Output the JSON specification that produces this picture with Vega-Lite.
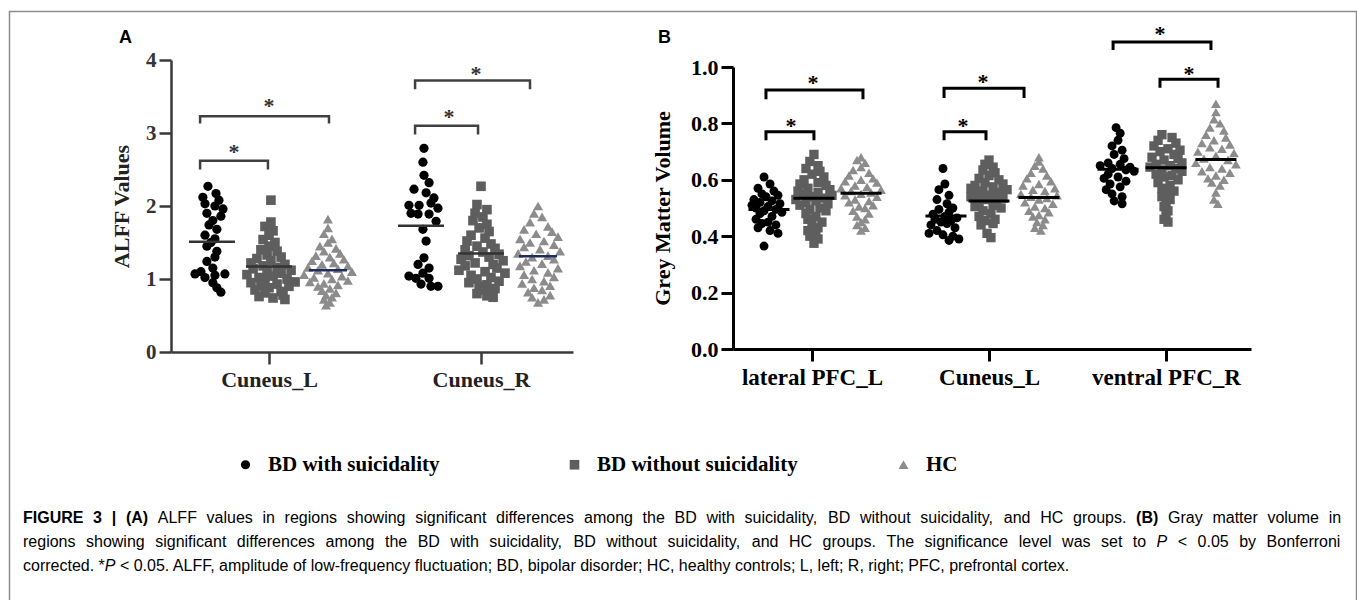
{
"$schema": "https://vega.github.io/schema/vega-lite/v6.json",
"padding": {"left": 8, "top": 10, "right": 0, "bottom": 0},
"background": "white",
"config": {"view": {"stroke": null}, "font": "Liberation Serif", "style": {"cap": {"align": "left", "baseline": "middle", "font": "Liberation Sans", "fontSize": 16, "fill": "#333"}}},
"datasets": {
"ptsA": [
{"g":"S","v":2.27,"x":0.712},{"g":"S","v":2.17,"x":0.75},{"g":"S","v":2.12,"x":0.688},{"g":"S","v":2.08,"x":0.764},{"g":"S","v":2.03,"x":0.698},{"g":"S","v":2.0,"x":0.745},{"g":"S","v":1.96,"x":0.783},{"g":"S","v":1.9,"x":0.707},{"g":"S","v":1.86,"x":0.773},{"g":"S","v":1.8,"x":0.735},{"g":"S","v":1.74,"x":0.717},{"g":"S","v":1.68,"x":0.754},{"g":"S","v":1.6,"x":0.698},{"g":"S","v":1.55,"x":0.745},{"g":"S","v":1.5,"x":0.726},{"g":"S","v":1.45,"x":0.707},{"g":"S","v":1.38,"x":0.754},{"g":"S","v":1.3,"x":0.745},{"g":"S","v":1.24,"x":0.707},{"g":"S","v":1.15,"x":0.735},{"g":"S","v":1.1,"x":0.679},{"g":"S","v":1.07,"x":0.651},{"g":"S","v":1.07,"x":0.792},{"g":"S","v":1.05,"x":0.745},{"g":"S","v":1.02,"x":0.698},{"g":"S","v":0.95,"x":0.735},{"g":"S","v":0.88,"x":0.754},{"g":"S","v":0.82,"x":0.773},
{"g":"N","v":2.08,"x":1.009},{"g":"N","v":1.78,"x":1.009},{"g":"N","v":1.72,"x":0.981},{"g":"N","v":1.66,"x":1.019},{"g":"N","v":1.6,"x":1.0},{"g":"N","v":1.54,"x":0.972},{"g":"N","v":1.5,"x":1.028},{"g":"N","v":1.45,"x":1.0},{"g":"N","v":1.4,"x":0.962},{"g":"N","v":1.38,"x":1.038},{"g":"N","v":1.33,"x":0.991},{"g":"N","v":1.3,"x":1.057},{"g":"N","v":1.28,"x":0.943},{"g":"N","v":1.25,"x":1.009},{"g":"N","v":1.22,"x":0.915},{"g":"N","v":1.2,"x":1.075},{"g":"N","v":1.18,"x":0.972},{"g":"N","v":1.16,"x":1.038},{"g":"N","v":1.14,"x":0.925},{"g":"N","v":1.12,"x":1.104},{"g":"N","v":1.1,"x":0.991},{"g":"N","v":1.08,"x":1.057},{"g":"N","v":1.06,"x":0.896},{"g":"N","v":1.04,"x":1.019},{"g":"N","v":1.02,"x":0.953},{"g":"N","v":1.0,"x":1.085},{"g":"N","v":0.98,"x":0.981},{"g":"N","v":0.96,"x":1.123},{"g":"N","v":0.95,"x":0.915},{"g":"N","v":0.93,"x":1.038},{"g":"N","v":0.91,"x":0.962},{"g":"N","v":0.9,"x":1.094},{"g":"N","v":0.88,"x":1.0},{"g":"N","v":0.85,"x":0.934},{"g":"N","v":0.83,"x":1.057},{"g":"N","v":0.81,"x":0.981},{"g":"N","v":0.78,"x":1.066},{"g":"N","v":0.76,"x":0.953},{"g":"N","v":0.74,"x":1.019},{"g":"N","v":0.72,"x":1.075},
{"g":"H","v":1.82,"x":1.278},{"g":"H","v":1.7,"x":1.278},{"g":"H","v":1.62,"x":1.259},{"g":"H","v":1.55,"x":1.297},{"g":"H","v":1.5,"x":1.278},{"g":"H","v":1.45,"x":1.24},{"g":"H","v":1.42,"x":1.316},{"g":"H","v":1.38,"x":1.259},{"g":"H","v":1.35,"x":1.335},{"g":"H","v":1.32,"x":1.221},{"g":"H","v":1.3,"x":1.287},{"g":"H","v":1.27,"x":1.353},{"g":"H","v":1.25,"x":1.203},{"g":"H","v":1.22,"x":1.306},{"g":"H","v":1.2,"x":1.25},{"g":"H","v":1.18,"x":1.372},{"g":"H","v":1.16,"x":1.184},{"g":"H","v":1.14,"x":1.325},{"g":"H","v":1.12,"x":1.231},{"g":"H","v":1.1,"x":1.391},{"g":"H","v":1.08,"x":1.278},{"g":"H","v":1.06,"x":1.165},{"g":"H","v":1.04,"x":1.344},{"g":"H","v":1.02,"x":1.212},{"g":"H","v":1.0,"x":1.297},{"g":"H","v":0.98,"x":1.372},{"g":"H","v":0.96,"x":1.193},{"g":"H","v":0.94,"x":1.259},{"g":"H","v":0.92,"x":1.325},{"g":"H","v":0.9,"x":1.231},{"g":"H","v":0.87,"x":1.287},{"g":"H","v":0.84,"x":1.25},{"g":"H","v":0.81,"x":1.316},{"g":"H","v":0.78,"x":1.269},{"g":"H","v":0.75,"x":1.297},{"g":"H","v":0.72,"x":1.259},{"g":"H","v":0.68,"x":1.287},{"g":"H","v":0.64,"x":1.269},
{"g":"S","v":2.79,"x":1.731},{"g":"S","v":2.6,"x":1.726},{"g":"S","v":2.42,"x":1.731},{"g":"S","v":2.32,"x":1.755},{"g":"S","v":2.23,"x":1.684},{"g":"S","v":2.18,"x":1.741},{"g":"S","v":2.11,"x":1.778},{"g":"S","v":2.01,"x":1.66},{"g":"S","v":2.01,"x":1.708},{"g":"S","v":2.04,"x":1.764},{"g":"S","v":1.97,"x":1.797},{"g":"S","v":1.9,"x":1.67},{"g":"S","v":1.89,"x":1.703},{"g":"S","v":1.89,"x":1.755},{"g":"S","v":1.79,"x":1.788},{"g":"S","v":1.68,"x":1.726},{"g":"S","v":1.52,"x":1.741},{"g":"S","v":1.29,"x":1.731},{"g":"S","v":1.2,"x":1.703},{"g":"S","v":1.15,"x":1.755},{"g":"S","v":1.08,"x":1.726},{"g":"S","v":1.04,"x":1.66},{"g":"S","v":1.01,"x":1.693},{"g":"S","v":1.01,"x":1.755},{"g":"S","v":0.93,"x":1.717},{"g":"S","v":0.9,"x":1.764},{"g":"S","v":0.9,"x":1.797},
{"g":"N","v":2.27,"x":2.0},{"g":"N","v":2.02,"x":1.981},{"g":"N","v":1.95,"x":2.028},{"g":"N","v":1.9,"x":1.972},{"g":"N","v":1.85,"x":2.009},{"g":"N","v":1.8,"x":1.962},{"g":"N","v":1.75,"x":2.028},{"g":"N","v":1.7,"x":1.991},{"g":"N","v":1.65,"x":2.038},{"g":"N","v":1.6,"x":1.953},{"g":"N","v":1.56,"x":2.019},{"g":"N","v":1.52,"x":1.934},{"g":"N","v":1.48,"x":2.047},{"g":"N","v":1.45,"x":1.981},{"g":"N","v":1.42,"x":2.066},{"g":"N","v":1.4,"x":1.925},{"g":"N","v":1.37,"x":2.009},{"g":"N","v":1.34,"x":2.085},{"g":"N","v":1.32,"x":1.943},{"g":"N","v":1.3,"x":2.038},{"g":"N","v":1.27,"x":1.906},{"g":"N","v":1.25,"x":2.104},{"g":"N","v":1.22,"x":1.972},{"g":"N","v":1.2,"x":2.057},{"g":"N","v":1.18,"x":1.925},{"g":"N","v":1.15,"x":2.075},{"g":"N","v":1.12,"x":1.896},{"g":"N","v":1.1,"x":2.019},{"g":"N","v":1.08,"x":2.113},{"g":"N","v":1.05,"x":1.953},{"g":"N","v":1.02,"x":2.047},{"g":"N","v":1.0,"x":1.981},{"g":"N","v":0.97,"x":2.085},{"g":"N","v":0.95,"x":1.943},{"g":"N","v":0.92,"x":2.028},{"g":"N","v":0.9,"x":1.991},{"g":"N","v":0.87,"x":2.066},{"g":"N","v":0.85,"x":2.009},{"g":"N","v":0.82,"x":2.038},{"g":"N","v":0.8,"x":1.981},{"g":"N","v":0.77,"x":2.028},{"g":"N","v":0.75,"x":2.057},
{"g":"H","v":2.0,"x":2.269},{"g":"H","v":1.9,"x":2.25},{"g":"H","v":1.85,"x":2.288},{"g":"H","v":1.78,"x":2.231},{"g":"H","v":1.72,"x":2.316},{"g":"H","v":1.68,"x":2.203},{"g":"H","v":1.65,"x":2.335},{"g":"H","v":1.62,"x":2.26},{"g":"H","v":1.58,"x":2.363},{"g":"H","v":1.55,"x":2.184},{"g":"H","v":1.52,"x":2.297},{"g":"H","v":1.5,"x":2.231},{"g":"H","v":1.47,"x":2.344},{"g":"H","v":1.44,"x":2.203},{"g":"H","v":1.41,"x":2.278},{"g":"H","v":1.38,"x":2.373},{"g":"H","v":1.35,"x":2.175},{"g":"H","v":1.32,"x":2.316},{"g":"H","v":1.3,"x":2.241},{"g":"H","v":1.27,"x":2.344},{"g":"H","v":1.24,"x":2.212},{"g":"H","v":1.21,"x":2.288},{"g":"H","v":1.18,"x":2.184},{"g":"H","v":1.15,"x":2.363},{"g":"H","v":1.12,"x":2.25},{"g":"H","v":1.09,"x":2.316},{"g":"H","v":1.06,"x":2.203},{"g":"H","v":1.03,"x":2.344},{"g":"H","v":1.0,"x":2.241},{"g":"H","v":0.97,"x":2.297},{"g":"H","v":0.94,"x":2.194},{"g":"H","v":0.91,"x":2.326},{"g":"H","v":0.88,"x":2.25},{"g":"H","v":0.85,"x":2.288},{"g":"H","v":0.82,"x":2.222},{"g":"H","v":0.78,"x":2.326},{"g":"H","v":0.75,"x":2.241},{"g":"H","v":0.72,"x":2.297},{"g":"H","v":0.68,"x":2.269}
],
"ptsB": [
{"g":"S","v":0.61,"x":0.729},{"g":"S","v":0.585,"x":0.763},{"g":"S","v":0.57,"x":0.695},{"g":"S","v":0.56,"x":0.785},{"g":"S","v":0.55,"x":0.717},{"g":"S","v":0.545,"x":0.808},{"g":"S","v":0.54,"x":0.74},{"g":"S","v":0.53,"x":0.672},{"g":"S","v":0.525,"x":0.774},{"g":"S","v":0.52,"x":0.706},{"g":"S","v":0.515,"x":0.819},{"g":"S","v":0.51,"x":0.661},{"g":"S","v":0.505,"x":0.751},{"g":"S","v":0.5,"x":0.684},{"g":"S","v":0.495,"x":0.796},{"g":"S","v":0.49,"x":0.729},{"g":"S","v":0.485,"x":0.83},{"g":"S","v":0.48,"x":0.706},{"g":"S","v":0.47,"x":0.774},{"g":"S","v":0.46,"x":0.684},{"g":"S","v":0.45,"x":0.751},{"g":"S","v":0.445,"x":0.717},{"g":"S","v":0.44,"x":0.796},{"g":"S","v":0.43,"x":0.695},{"g":"S","v":0.42,"x":0.763},{"g":"S","v":0.41,"x":0.808},{"g":"S","v":0.365,"x":0.729},
{"g":"N","v":0.69,"x":1.011},{"g":"N","v":0.665,"x":0.988},{"g":"N","v":0.65,"x":1.034},{"g":"N","v":0.64,"x":0.966},{"g":"N","v":0.63,"x":1.045},{"g":"N","v":0.62,"x":1.0},{"g":"N","v":0.61,"x":1.067},{"g":"N","v":0.6,"x":0.955},{"g":"N","v":0.59,"x":1.034},{"g":"N","v":0.585,"x":0.932},{"g":"N","v":0.58,"x":1.079},{"g":"N","v":0.57,"x":0.977},{"g":"N","v":0.565,"x":1.101},{"g":"N","v":0.56,"x":0.921},{"g":"N","v":0.555,"x":1.034},{"g":"N","v":0.55,"x":0.955},{"g":"N","v":0.545,"x":1.113},{"g":"N","v":0.54,"x":1.0},{"g":"N","v":0.535,"x":1.067},{"g":"N","v":0.53,"x":0.909},{"g":"N","v":0.525,"x":1.022},{"g":"N","v":0.52,"x":0.966},{"g":"N","v":0.515,"x":1.09},{"g":"N","v":0.51,"x":0.932},{"g":"N","v":0.5,"x":1.045},{"g":"N","v":0.495,"x":0.988},{"g":"N","v":0.49,"x":1.079},{"g":"N","v":0.48,"x":0.966},{"g":"N","v":0.47,"x":1.022},{"g":"N","v":0.46,"x":0.977},{"g":"N","v":0.45,"x":1.056},{"g":"N","v":0.44,"x":1.0},{"g":"N","v":0.43,"x":1.034},{"g":"N","v":0.42,"x":0.977},{"g":"N","v":0.41,"x":1.022},{"g":"N","v":0.4,"x":0.988},{"g":"N","v":0.39,"x":1.034},{"g":"N","v":0.375,"x":1.011},
{"g":"H","v":0.68,"x":1.277},{"g":"H","v":0.67,"x":1.254},{"g":"H","v":0.66,"x":1.3},{"g":"H","v":0.645,"x":1.277},{"g":"H","v":0.635,"x":1.232},{"g":"H","v":0.625,"x":1.322},{"g":"H","v":0.615,"x":1.209},{"g":"H","v":0.605,"x":1.345},{"g":"H","v":0.6,"x":1.277},{"g":"H","v":0.595,"x":1.187},{"g":"H","v":0.59,"x":1.367},{"g":"H","v":0.58,"x":1.243},{"g":"H","v":0.575,"x":1.311},{"g":"H","v":0.57,"x":1.164},{"g":"H","v":0.565,"x":1.39},{"g":"H","v":0.56,"x":1.221},{"g":"H","v":0.555,"x":1.333},{"g":"H","v":0.55,"x":1.277},{"g":"H","v":0.545,"x":1.187},{"g":"H","v":0.54,"x":1.367},{"g":"H","v":0.53,"x":1.243},{"g":"H","v":0.525,"x":1.322},{"g":"H","v":0.52,"x":1.209},{"g":"H","v":0.51,"x":1.345},{"g":"H","v":0.505,"x":1.266},{"g":"H","v":0.5,"x":1.3},{"g":"H","v":0.49,"x":1.232},{"g":"H","v":0.48,"x":1.322},{"g":"H","v":0.47,"x":1.254},{"g":"H","v":0.46,"x":1.3},{"g":"H","v":0.45,"x":1.277},{"g":"H","v":0.44,"x":1.254},{"g":"H","v":0.43,"x":1.3},{"g":"H","v":0.42,"x":1.277},
{"g":"S","v":0.64,"x":1.74},{"g":"S","v":0.585,"x":1.751},{"g":"S","v":0.565,"x":1.717},{"g":"S","v":0.545,"x":1.774},{"g":"S","v":0.53,"x":1.706},{"g":"S","v":0.515,"x":1.763},{"g":"S","v":0.5,"x":1.796},{"g":"S","v":0.495,"x":1.717},{"g":"S","v":0.485,"x":1.774},{"g":"S","v":0.478,"x":1.684},{"g":"S","v":0.47,"x":1.751},{"g":"S","v":0.465,"x":1.819},{"g":"S","v":0.46,"x":1.695},{"g":"S","v":0.455,"x":1.785},{"g":"S","v":0.45,"x":1.729},{"g":"S","v":0.445,"x":1.763},{"g":"S","v":0.44,"x":1.672},{"g":"S","v":0.43,"x":1.808},{"g":"S","v":0.42,"x":1.706},{"g":"S","v":0.41,"x":1.661},{"g":"S","v":0.405,"x":1.74},{"g":"S","v":0.4,"x":1.796},{"g":"S","v":0.39,"x":1.83},{"g":"S","v":0.385,"x":1.774},
{"g":"N","v":0.67,"x":2.0},{"g":"N","v":0.655,"x":1.977},{"g":"N","v":0.645,"x":2.023},{"g":"N","v":0.635,"x":1.966},{"g":"N","v":0.625,"x":2.034},{"g":"N","v":0.615,"x":2.0},{"g":"N","v":0.605,"x":1.944},{"g":"N","v":0.6,"x":2.056},{"g":"N","v":0.59,"x":1.977},{"g":"N","v":0.585,"x":2.079},{"g":"N","v":0.58,"x":1.921},{"g":"N","v":0.575,"x":2.023},{"g":"N","v":0.57,"x":1.898},{"g":"N","v":0.565,"x":2.102},{"g":"N","v":0.56,"x":1.966},{"g":"N","v":0.555,"x":2.056},{"g":"N","v":0.55,"x":1.932},{"g":"N","v":0.545,"x":2.011},{"g":"N","v":0.54,"x":1.898},{"g":"N","v":0.535,"x":2.079},{"g":"N","v":0.53,"x":1.977},{"g":"N","v":0.525,"x":2.045},{"g":"N","v":0.52,"x":1.944},{"g":"N","v":0.51,"x":2.023},{"g":"N","v":0.505,"x":1.921},{"g":"N","v":0.5,"x":2.068},{"g":"N","v":0.49,"x":1.966},{"g":"N","v":0.48,"x":2.011},{"g":"N","v":0.47,"x":1.944},{"g":"N","v":0.46,"x":2.034},{"g":"N","v":0.455,"x":1.977},{"g":"N","v":0.445,"x":2.023},{"g":"N","v":0.44,"x":1.955},{"g":"N","v":0.41,"x":1.989},{"g":"N","v":0.395,"x":2.011},
{"g":"H","v":0.68,"x":2.282},{"g":"H","v":0.665,"x":2.282},{"g":"H","v":0.65,"x":2.259},{"g":"H","v":0.64,"x":2.305},{"g":"H","v":0.625,"x":2.237},{"g":"H","v":0.615,"x":2.327},{"g":"H","v":0.605,"x":2.214},{"g":"H","v":0.595,"x":2.35},{"g":"H","v":0.585,"x":2.282},{"g":"H","v":0.58,"x":2.192},{"g":"H","v":0.57,"x":2.372},{"g":"H","v":0.565,"x":2.248},{"g":"H","v":0.56,"x":2.316},{"g":"H","v":0.55,"x":2.18},{"g":"H","v":0.545,"x":2.384},{"g":"H","v":0.54,"x":2.237},{"g":"H","v":0.535,"x":2.327},{"g":"H","v":0.53,"x":2.282},{"g":"H","v":0.52,"x":2.203},{"g":"H","v":0.515,"x":2.361},{"g":"H","v":0.505,"x":2.259},{"g":"H","v":0.5,"x":2.316},{"g":"H","v":0.49,"x":2.226},{"g":"H","v":0.485,"x":2.338},{"g":"H","v":0.475,"x":2.282},{"g":"H","v":0.47,"x":2.248},{"g":"H","v":0.46,"x":2.316},{"g":"H","v":0.45,"x":2.271},{"g":"H","v":0.44,"x":2.305},{"g":"H","v":0.43,"x":2.259},{"g":"H","v":0.42,"x":2.293},
{"g":"S","v":0.785,"x":2.718},{"g":"S","v":0.765,"x":2.741},{"g":"S","v":0.74,"x":2.729},{"g":"S","v":0.72,"x":2.695},{"g":"S","v":0.705,"x":2.752},{"g":"S","v":0.69,"x":2.707},{"g":"S","v":0.675,"x":2.763},{"g":"S","v":0.66,"x":2.673},{"g":"S","v":0.655,"x":2.741},{"g":"S","v":0.65,"x":2.628},{"g":"S","v":0.645,"x":2.797},{"g":"S","v":0.64,"x":2.695},{"g":"S","v":0.635,"x":2.774},{"g":"S","v":0.63,"x":2.82},{"g":"S","v":0.62,"x":2.673},{"g":"S","v":0.61,"x":2.729},{"g":"S","v":0.605,"x":2.65},{"g":"S","v":0.595,"x":2.774},{"g":"S","v":0.585,"x":2.684},{"g":"S","v":0.575,"x":2.741},{"g":"S","v":0.565,"x":2.662},{"g":"S","v":0.55,"x":2.695},{"g":"S","v":0.54,"x":2.752},{"g":"S","v":0.525,"x":2.707},{"g":"S","v":0.515,"x":2.752},
{"g":"N","v":0.76,"x":2.977},{"g":"N","v":0.75,"x":3.034},{"g":"N","v":0.74,"x":2.955},{"g":"N","v":0.73,"x":3.056},{"g":"N","v":0.72,"x":2.932},{"g":"N","v":0.71,"x":3.011},{"g":"N","v":0.705,"x":3.079},{"g":"N","v":0.7,"x":2.966},{"g":"N","v":0.69,"x":3.045},{"g":"N","v":0.68,"x":2.921},{"g":"N","v":0.675,"x":3.068},{"g":"N","v":0.67,"x":2.989},{"g":"N","v":0.66,"x":3.09},{"g":"N","v":0.655,"x":2.944},{"g":"N","v":0.65,"x":3.023},{"g":"N","v":0.645,"x":2.91},{"g":"N","v":0.64,"x":3.056},{"g":"N","v":0.635,"x":2.977},{"g":"N","v":0.63,"x":3.09},{"g":"N","v":0.62,"x":2.944},{"g":"N","v":0.615,"x":3.034},{"g":"N","v":0.61,"x":2.989},{"g":"N","v":0.6,"x":3.068},{"g":"N","v":0.59,"x":2.955},{"g":"N","v":0.58,"x":3.023},{"g":"N","v":0.57,"x":2.977},{"g":"N","v":0.56,"x":3.045},{"g":"N","v":0.55,"x":3.0},{"g":"N","v":0.54,"x":2.977},{"g":"N","v":0.53,"x":3.023},{"g":"N","v":0.52,"x":3.0},{"g":"N","v":0.505,"x":2.989},{"g":"N","v":0.49,"x":3.011},{"g":"N","v":0.475,"x":3.0},{"g":"N","v":0.46,"x":2.989},{"g":"N","v":0.45,"x":3.011},
{"g":"H","v":0.87,"x":3.282},{"g":"H","v":0.84,"x":3.282},{"g":"H","v":0.815,"x":3.271},{"g":"H","v":0.8,"x":3.305},{"g":"H","v":0.785,"x":3.248},{"g":"H","v":0.775,"x":3.327},{"g":"H","v":0.76,"x":3.226},{"g":"H","v":0.75,"x":3.338},{"g":"H","v":0.74,"x":3.271},{"g":"H","v":0.73,"x":3.203},{"g":"H","v":0.725,"x":3.361},{"g":"H","v":0.715,"x":3.248},{"g":"H","v":0.71,"x":3.316},{"g":"H","v":0.7,"x":3.18},{"g":"H","v":0.695,"x":3.384},{"g":"H","v":0.685,"x":3.282},{"g":"H","v":0.675,"x":3.214},{"g":"H","v":0.67,"x":3.35},{"g":"H","v":0.66,"x":3.169},{"g":"H","v":0.655,"x":3.395},{"g":"H","v":0.645,"x":3.248},{"g":"H","v":0.64,"x":3.316},{"g":"H","v":0.63,"x":3.203},{"g":"H","v":0.625,"x":3.361},{"g":"H","v":0.615,"x":3.282},{"g":"H","v":0.605,"x":3.237},{"g":"H","v":0.6,"x":3.327},{"g":"H","v":0.59,"x":3.259},{"g":"H","v":0.58,"x":3.305},{"g":"H","v":0.555,"x":3.282},{"g":"H","v":0.53,"x":3.271},{"g":"H","v":0.515,"x":3.293}
],
"meanA": [{"g":"S","v":1.51,"x":0.731},{"g":"N","v":1.17,"x":1.0},{"g":"H","v":1.12,"x":1.278},{"g":"S","v":1.73,"x":1.717},{"g":"N","v":1.35,"x":2.0},{"g":"H","v":1.31,"x":2.269}],
"meanB": [{"g":"S","v":0.495,"x":0.757},{"g":"N","v":0.535,"x":1.011},{"g":"H","v":0.552,"x":1.277},{"g":"S","v":0.472,"x":1.757},{"g":"N","v":0.525,"x":2.0},{"g":"H","v":0.537,"x":2.282},{"g":"S","v":0.637,"x":2.729},{"g":"N","v":0.643,"x":3.0},{"g":"H","v":0.672,"x":3.282}],
"brA": [
{"b":1,"k":1,"x":0.675,"v":2.5},{"b":1,"k":2,"x":0.675,"v":2.62},{"b":1,"k":3,"x":0.995,"v":2.62},{"b":1,"k":4,"x":0.995,"v":2.5},
{"b":2,"k":1,"x":0.675,"v":3.13},{"b":2,"k":2,"x":0.675,"v":3.23},{"b":2,"k":3,"x":1.283,"v":3.23},{"b":2,"k":4,"x":1.283,"v":3.13},
{"b":3,"k":1,"x":1.689,"v":2.98},{"b":3,"k":2,"x":1.689,"v":3.1},{"b":3,"k":3,"x":1.986,"v":3.1},{"b":3,"k":4,"x":1.986,"v":2.98},
{"b":4,"k":1,"x":1.689,"v":3.6},{"b":4,"k":2,"x":1.689,"v":3.72},{"b":4,"k":3,"x":2.231,"v":3.72},{"b":4,"k":4,"x":2.231,"v":3.6}
],
"brB": [
{"b":1,"k":1,"x":0.74,"v":0.74},{"b":1,"k":2,"x":0.74,"v":0.77},{"b":1,"k":3,"x":1.011,"v":0.77},{"b":1,"k":4,"x":1.011,"v":0.74},
{"b":2,"k":1,"x":0.74,"v":0.886},{"b":2,"k":2,"x":0.74,"v":0.918},{"b":2,"k":3,"x":1.288,"v":0.918},{"b":2,"k":4,"x":1.288,"v":0.886},
{"b":3,"k":1,"x":1.746,"v":0.74},{"b":3,"k":2,"x":1.746,"v":0.77},{"b":3,"k":3,"x":1.983,"v":0.77},{"b":3,"k":4,"x":1.983,"v":0.74},
{"b":4,"k":1,"x":1.746,"v":0.89},{"b":4,"k":2,"x":1.746,"v":0.925},{"b":4,"k":3,"x":2.198,"v":0.925},{"b":4,"k":4,"x":2.198,"v":0.89},
{"b":5,"k":1,"x":2.701,"v":1.06},{"b":5,"k":2,"x":2.701,"v":1.089},{"b":5,"k":3,"x":3.254,"v":1.089},{"b":5,"k":4,"x":3.254,"v":1.06},
{"b":6,"k":1,"x":2.966,"v":0.926},{"b":6,"k":2,"x":2.966,"v":0.957},{"b":6,"k":3,"x":3.294,"v":0.957},{"b":6,"k":4,"x":3.294,"v":0.926}
],
"starA": [{"x":0.835,"v":2.74},{"x":1.0,"v":3.37},{"x":1.849,"v":3.22},{"x":1.976,"v":3.81}],
"starB": [{"x":0.881,"v":0.79},{"x":1.006,"v":0.943},{"x":1.853,"v":0.79},{"x":1.966,"v":0.946},{"x":2.966,"v":1.117},{"x":3.13,"v":0.975}]
},
"bounds": "flush",
"spacing": 0,
"vconcat": [
{"width": 1348, "height": 1, "view": {"fill": "#8c8c8c", "stroke": "#8c8c8c", "strokeWidth": 0.5}, "data": {"values": []}, "mark": "point"},
{
"bounds": "flush",
"spacing": 0,
"resolve": {"scale": {"color": "independent", "shape": "independent", "size": "independent", "x": "independent", "y": "independent"}},
"hconcat": [
{"width": 1, "height": 588, "view": {"fill": "#8c8c8c", "stroke": "#8c8c8c", "strokeWidth": 0.5},
"layer": [
{"data": {"values": [{"t": "FIGURE"}]}, "mark": {"type": "text", "style": "cap", "fontWeight": "bold", "x": 14, "y": 506}, "encoding": {"text": {"field": "t"}}},
{"data": {"values": [{"t": "3"}]}, "mark": {"type": "text", "style": "cap", "fontWeight": "bold", "x": 84.1, "y": 506}, "encoding": {"text": {"field": "t"}}},
{"data": {"values": [{"t": "|"}]}, "mark": {"type": "text", "style": "cap", "fontWeight": "bold", "x": 102.7, "y": 506}, "encoding": {"text": {"field": "t"}}},
{"data": {"values": [{"t": "(A)"}]}, "mark": {"type": "text", "style": "cap", "fontWeight": "bold", "x": 116.9, "y": 506}, "encoding": {"text": {"field": "t"}}},
{"data": {"values": [{"t": "ALFF"}]}, "mark": {"type": "text", "style": "cap", "x": 148.8, "y": 506}, "encoding": {"text": {"field": "t"}}},
{"data": {"values": [{"t": "values"}]}, "mark": {"type": "text", "style": "cap", "x": 197.6, "y": 506}, "encoding": {"text": {"field": "t"}}},
{"data": {"values": [{"t": "in"}]}, "mark": {"type": "text", "style": "cap", "x": 253.5, "y": 506}, "encoding": {"text": {"field": "t"}}},
{"data": {"values": [{"t": "regions"}]}, "mark": {"type": "text", "style": "cap", "x": 275.6, "y": 506}, "encoding": {"text": {"field": "t"}}},
{"data": {"values": [{"t": "showing"}]}, "mark": {"type": "text", "style": "cap", "x": 337.8, "y": 506}, "encoding": {"text": {"field": "t"}}},
{"data": {"values": [{"t": "significant"}]}, "mark": {"type": "text", "style": "cap", "x": 406.2, "y": 506}, "encoding": {"text": {"field": "t"}}},
{"data": {"values": [{"t": "differences"}]}, "mark": {"type": "text", "style": "cap", "x": 487.0, "y": 506}, "encoding": {"text": {"field": "t"}}},
{"data": {"values": [{"t": "among"}]}, "mark": {"type": "text", "style": "cap", "x": 575.0, "y": 506}, "encoding": {"text": {"field": "t"}}},
{"data": {"values": [{"t": "the"}]}, "mark": {"type": "text", "style": "cap", "x": 633.6, "y": 506}, "encoding": {"text": {"field": "t"}}},
{"data": {"values": [{"t": "BD"}]}, "mark": {"type": "text", "style": "cap", "x": 665.5, "y": 506}, "encoding": {"text": {"field": "t"}}},
{"data": {"values": [{"t": "with"}]}, "mark": {"type": "text", "style": "cap", "x": 697.4, "y": 506}, "encoding": {"text": {"field": "t"}}},
{"data": {"values": [{"t": "suicidality,"}]}, "mark": {"type": "text", "style": "cap", "x": 735.5, "y": 506}, "encoding": {"text": {"field": "t"}}},
{"data": {"values": [{"t": "BD"}]}, "mark": {"type": "text", "style": "cap", "x": 819.0, "y": 506}, "encoding": {"text": {"field": "t"}}},
{"data": {"values": [{"t": "without"}]}, "mark": {"type": "text", "style": "cap", "x": 850.9, "y": 506}, "encoding": {"text": {"field": "t"}}},
{"data": {"values": [{"t": "suicidality,"}]}, "mark": {"type": "text", "style": "cap", "x": 911.3, "y": 506}, "encoding": {"text": {"field": "t"}}},
{"data": {"values": [{"t": "and"}]}, "mark": {"type": "text", "style": "cap", "x": 994.8, "y": 506}, "encoding": {"text": {"field": "t"}}},
{"data": {"values": [{"t": "HC"}]}, "mark": {"type": "text", "style": "cap", "x": 1031.2, "y": 506}, "encoding": {"text": {"field": "t"}}},
{"data": {"values": [{"t": "groups."}]}, "mark": {"type": "text", "style": "cap", "x": 1064.0, "y": 506}, "encoding": {"text": {"field": "t"}}},
{"data": {"values": [{"t": "(B)"}]}, "mark": {"type": "text", "style": "cap", "fontWeight": "bold", "x": 1127.1, "y": 506}, "encoding": {"text": {"field": "t"}}},
{"data": {"values": [{"t": "Gray"}]}, "mark": {"type": "text", "style": "cap", "x": 1159.0, "y": 506}, "encoding": {"text": {"field": "t"}}},
{"data": {"values": [{"t": "matter"}]}, "mark": {"type": "text", "style": "cap", "x": 1203.4, "y": 506}, "encoding": {"text": {"field": "t"}}},
{"data": {"values": [{"t": "volume"}]}, "mark": {"type": "text", "style": "cap", "x": 1258.4, "y": 506}, "encoding": {"text": {"field": "t"}}},
{"data": {"values": [{"t": "in"}]}, "mark": {"type": "text", "style": "cap", "x": 1319.7, "y": 506}, "encoding": {"text": {"field": "t"}}},
{"data": {"values": [{"t": "regions"}]}, "mark": {"type": "text", "style": "cap", "x": 14, "y": 530}, "encoding": {"text": {"field": "t"}}},
{"data": {"values": [{"t": "showing"}]}, "mark": {"type": "text", "style": "cap", "x": 77.0, "y": 530}, "encoding": {"text": {"field": "t"}}},
{"data": {"values": [{"t": "significant"}]}, "mark": {"type": "text", "style": "cap", "x": 146.2, "y": 530}, "encoding": {"text": {"field": "t"}}},
{"data": {"values": [{"t": "differences"}]}, "mark": {"type": "text", "style": "cap", "x": 227.8, "y": 530}, "encoding": {"text": {"field": "t"}}},
{"data": {"values": [{"t": "among"}]}, "mark": {"type": "text", "style": "cap", "x": 316.6, "y": 530}, "encoding": {"text": {"field": "t"}}},
{"data": {"values": [{"t": "the"}]}, "mark": {"type": "text", "style": "cap", "x": 376.0, "y": 530}, "encoding": {"text": {"field": "t"}}},
{"data": {"values": [{"t": "BD"}]}, "mark": {"type": "text", "style": "cap", "x": 408.7, "y": 530}, "encoding": {"text": {"field": "t"}}},
{"data": {"values": [{"t": "with"}]}, "mark": {"type": "text", "style": "cap", "x": 441.4, "y": 530}, "encoding": {"text": {"field": "t"}}},
{"data": {"values": [{"t": "suicidality,"}]}, "mark": {"type": "text", "style": "cap", "x": 480.3, "y": 530}, "encoding": {"text": {"field": "t"}}},
{"data": {"values": [{"t": "BD"}]}, "mark": {"type": "text", "style": "cap", "x": 564.6, "y": 530}, "encoding": {"text": {"field": "t"}}},
{"data": {"values": [{"t": "without"}]}, "mark": {"type": "text", "style": "cap", "x": 597.3, "y": 530}, "encoding": {"text": {"field": "t"}}},
{"data": {"values": [{"t": "suicidality,"}]}, "mark": {"type": "text", "style": "cap", "x": 658.5, "y": 530}, "encoding": {"text": {"field": "t"}}},
{"data": {"values": [{"t": "and"}]}, "mark": {"type": "text", "style": "cap", "x": 742.8, "y": 530}, "encoding": {"text": {"field": "t"}}},
{"data": {"values": [{"t": "HC"}]}, "mark": {"type": "text", "style": "cap", "x": 780.0, "y": 530}, "encoding": {"text": {"field": "t"}}},
{"data": {"values": [{"t": "groups."}]}, "mark": {"type": "text", "style": "cap", "x": 813.6, "y": 530}, "encoding": {"text": {"field": "t"}}},
{"data": {"values": [{"t": "The"}]}, "mark": {"type": "text", "style": "cap", "x": 877.5, "y": 530}, "encoding": {"text": {"field": "t"}}},
{"data": {"values": [{"t": "significance"}]}, "mark": {"type": "text", "style": "cap", "x": 915.6, "y": 530}, "encoding": {"text": {"field": "t"}}},
{"data": {"values": [{"t": "level"}]}, "mark": {"type": "text", "style": "cap", "x": 1009.7, "y": 530}, "encoding": {"text": {"field": "t"}}},
{"data": {"values": [{"t": "was"}]}, "mark": {"type": "text", "style": "cap", "x": 1053.1, "y": 530}, "encoding": {"text": {"field": "t"}}},
{"data": {"values": [{"t": "set"}]}, "mark": {"type": "text", "style": "cap", "x": 1092.0, "y": 530}, "encoding": {"text": {"field": "t"}}},
{"data": {"values": [{"t": "to"}]}, "mark": {"type": "text", "style": "cap", "x": 1123.8, "y": 530}, "encoding": {"text": {"field": "t"}}},
{"data": {"values": [{"t": "P"}]}, "mark": {"type": "text", "style": "cap", "fontStyle": "italic", "x": 1147.6, "y": 530}, "encoding": {"text": {"field": "t"}}},
{"data": {"values": [{"t": "<"}]}, "mark": {"type": "text", "style": "cap", "x": 1168.8, "y": 530}, "encoding": {"text": {"field": "t"}}},
{"data": {"values": [{"t": "0.05"}]}, "mark": {"type": "text", "style": "cap", "x": 1188.6, "y": 530}, "encoding": {"text": {"field": "t"}}},
{"data": {"values": [{"t": "by"}]}, "mark": {"type": "text", "style": "cap", "x": 1230.2, "y": 530}, "encoding": {"text": {"field": "t"}}},
{"data": {"values": [{"t": "Bonferroni"}]}, "mark": {"type": "text", "style": "cap", "x": 1257.6, "y": 530}, "encoding": {"text": {"field": "t"}}},
{"data": {"values": [{"t": "corrected. *"}]}, "mark": {"type": "text", "style": "cap", "x": 14, "y": 554}, "encoding": {"text": {"field": "t"}}},
{"data": {"values": [{"t": "P"}]}, "mark": {"type": "text", "style": "cap", "fontStyle": "italic", "x": 95.8, "y": 554}, "encoding": {"text": {"field": "t"}}},
{"data": {"values": [{"t": "< 0.05. ALFF, amplitude of low-frequency fluctuation; BD, bipolar disorder; HC, healthy controls; L, left; R, right; PFC, prefrontal cortex."}]}, "mark": {"type": "text", "style": "cap", "x": 110.9, "y": 554}, "encoding": {"text": {"field": "t"}}}
]
},
{"width": 161, "height": 1, "data": {"values": []}, "mark": "point"},
{
"width": 402, "height": 340,
"title": {"text": "A", "anchor": "start", "frame": "group", "font": "Liberation Sans", "fontSize": 18, "fontWeight": "bold", "color": "#000", "dx": -52, "offset": -34.5},
"layer": [
{"data": {"name": "ptsA"}, "mark": {"type": "point", "filled": true, "opacity": 1},
"encoding": {
"x": {"field": "x", "type": "quantitative", "scale": {"domain": [0.5377, 2.4339], "nice": false, "zero": false},
"axis": {"values": [1, 2], "labelExpr": "datum.value == 1 ? 'Cuneus_L' : 'Cuneus_R'", "title": null, "grid": false, "domainColor": "#3a3a3a", "domainWidth": 2.5, "tickColor": "#3a3a3a", "tickWidth": 2.5, "tickSize": 12, "labelFont": "Liberation Serif", "labelFontWeight": "bold", "labelFontSize": 22, "labelColor": "#222", "labelPadding": 5}},
"y": {"field": "v", "type": "quantitative", "scale": {"domain": [0, 4], "nice": false, "range": [340, 48]},
"axis": {"values": [0, 1, 2, 3, 4], "format": "d", "title": "ALFF Values", "grid": false, "domainColor": "#3a3a3a", "domainWidth": 2.5, "tickColor": "#3a3a3a", "tickWidth": 2.5, "tickSize": 12, "labelFont": "Liberation Serif", "labelFontWeight": "bold", "labelFontSize": 21, "labelColor": "#333", "labelPadding": 3, "titleFont": "Liberation Serif", "titleFontWeight": "bold", "titleFontSize": 22, "titleColor": "#222", "titlePadding": 12}},
"size": {"field": "g", "type": "nominal", "scale": {"domain": ["S", "N", "H"], "range": [85, 100, 115]}, "legend": null},
"color": {"field": "g", "type": "nominal", "scale": {"domain": ["S", "N", "H"], "range": ["#000000", "#5e5e5e", "#8c8c8c"]},
"legend": {"title": null, "orient": "none", "legendX": 64, "legendY": 442, "direction": "horizontal", "columns": 3, "gridAlign": "all", "columnPadding": 95, "symbolSize": 64, "labelFont": "Liberation Serif", "labelFontSize": 21, "labelFontWeight": "bold", "labelColor": "#000", "labelOffset": 12, "labelLimit": 400, "padding": 0, "labelExpr": "datum.label == 'S' ? 'BD with suicidality' : datum.label == 'N' ? 'BD without suicidality' : 'HC'"}},
"shape": {"field": "g", "type": "nominal", "scale": {"domain": ["S", "N", "H"], "range": ["circle", "square", "triangle-up"]},
"legend": {"title": null, "orient": "none", "legendX": 64, "legendY": 442, "direction": "horizontal", "columns": 3, "gridAlign": "all", "columnPadding": 95, "symbolSize": 64, "labelFont": "Liberation Serif", "labelFontSize": 21, "labelFontWeight": "bold", "labelColor": "#000", "labelOffset": 12, "labelLimit": 400, "padding": 0, "labelExpr": "datum.label == 'S' ? 'BD with suicidality' : datum.label == 'N' ? 'BD without suicidality' : 'HC'"}}
}},
{"data": {"name": "meanA"}, "transform": [{"filter": "datum.g != 'H'"}], "mark": {"type": "tick", "orient": "horizontal", "size": 46, "thickness": 2.5, "color": "#333", "opacity": 1},
"encoding": {"x": {"field": "x", "type": "quantitative"}, "y": {"field": "v", "type": "quantitative"}}},
{"data": {"name": "meanA"}, "transform": [{"filter": "datum.g == 'H'"}], "mark": {"type": "tick", "orient": "horizontal", "size": 38, "thickness": 2.5, "color": "#1f2d5c", "opacity": 1},
"encoding": {"x": {"field": "x", "type": "quantitative"}, "y": {"field": "v", "type": "quantitative"}}},
{"data": {"name": "brA"}, "mark": {"type": "line", "color": "#404040", "strokeWidth": 2.5},
"encoding": {"x": {"field": "x", "type": "quantitative"}, "y": {"field": "v", "type": "quantitative"}, "detail": {"field": "b", "type": "nominal"}, "order": {"field": "k", "type": "quantitative"}}},
{"data": {"name": "starA"}, "mark": {"type": "text", "text": "*", "font": "Liberation Serif", "fontSize": 22, "fontWeight": "bold", "color": "#333", "baseline": "middle"},
"encoding": {"x": {"field": "x", "type": "quantitative"}, "y": {"field": "v", "type": "quantitative"}}}
]
},
{"width": 160, "height": 1, "data": {"values": []}, "mark": "point"},
{
"width": 518, "height": 337,
"title": {"text": "B", "anchor": "start", "frame": "group", "font": "Liberation Sans", "fontSize": 18, "fontWeight": "bold", "color": "#000", "dx": -75, "offset": -34.5},
"layer": [
{"data": {"name": "ptsB"}, "mark": {"type": "point", "filled": true, "opacity": 1},
"encoding": {
"x": {"field": "x", "type": "quantitative", "scale": {"domain": [0.5537, 3.4802], "nice": false, "zero": false},
"axis": {"values": [1, 2, 3], "labelExpr": "datum.value == 1 ? 'lateral PFC_L' : datum.value == 2 ? 'Cuneus_L' : 'ventral PFC_R'", "title": null, "grid": false, "domainColor": "#000", "domainWidth": 3, "tickColor": "#000", "tickWidth": 3, "tickSize": 12, "labelFont": "Liberation Serif", "labelFontWeight": "bold", "labelFontSize": 23, "labelColor": "#000", "labelPadding": 5}},
"y": {"field": "v", "type": "quantitative", "scale": {"domain": [0, 1], "nice": false, "range": [337, 55]},
"axis": {"values": [0, 0.2, 0.4, 0.6, 0.8, 1.0], "format": ".1f", "title": "Grey Matter Volume", "grid": false, "domainColor": "#000", "domainWidth": 3, "tickColor": "#000", "tickWidth": 3, "tickSize": 12, "labelFont": "Liberation Serif", "labelFontWeight": "bold", "labelFontSize": 22, "labelColor": "#000", "labelPadding": 3, "titleFont": "Liberation Serif", "titleFontWeight": "bold", "titleFontSize": 22, "titleColor": "#000", "titlePadding": 16}},
"size": {"field": "g", "type": "nominal", "scale": {"domain": ["S", "N", "H"], "range": [80, 95, 110]}, "legend": null},
"color": {"field": "g", "type": "nominal", "scale": {"domain": ["S", "N", "H"], "range": ["#000000", "#5e5e5e", "#8c8c8c"]}, "legend": null},
"shape": {"field": "g", "type": "nominal", "scale": {"domain": ["S", "N", "H"], "range": ["circle", "square", "triangle-up"]}, "legend": null}
}},
{"data": {"name": "meanB"}, "mark": {"type": "tick", "orient": "horizontal", "size": 41, "thickness": 3, "color": "#000", "opacity": 1},
"encoding": {"x": {"field": "x", "type": "quantitative"}, "y": {"field": "v", "type": "quantitative"}}},
{"data": {"name": "brB"}, "mark": {"type": "line", "color": "#000", "strokeWidth": 3},
"encoding": {"x": {"field": "x", "type": "quantitative"}, "y": {"field": "v", "type": "quantitative"}, "detail": {"field": "b", "type": "nominal"}, "order": {"field": "k", "type": "quantitative"}}},
{"data": {"name": "starB"}, "mark": {"type": "text", "text": "*", "font": "Liberation Serif", "fontSize": 22, "fontWeight": "bold", "color": "#000", "baseline": "middle"},
"encoding": {"x": {"field": "x", "type": "quantitative"}, "y": {"field": "v", "type": "quantitative"}}}
]
},
{"width": 105, "height": 1, "data": {"values": []}, "mark": "point"},
{"width": 1, "height": 588, "view": {"fill": "#8c8c8c", "stroke": "#8c8c8c", "strokeWidth": 0.5}, "data": {"values": []}, "mark": "point"}
]
}
]
}
